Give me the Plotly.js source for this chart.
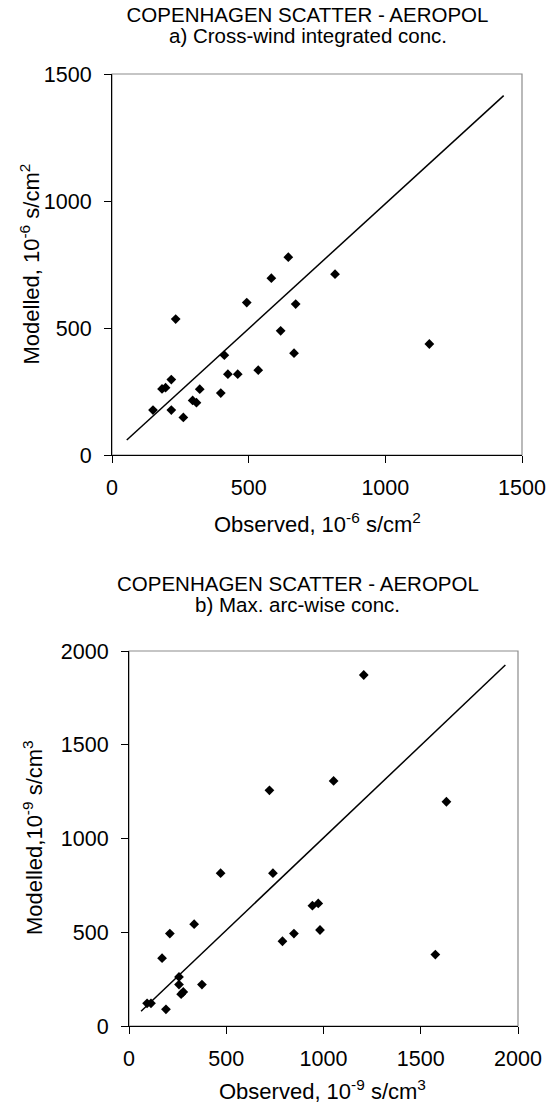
<!DOCTYPE html>
<html>
<head>
<meta charset="utf-8">
<script src="https://cdn.plot.ly/plotly-3.0.1.min.js"></script>
<style>
html,body{margin:0;padding:0;background:#fff;}
#chart{width:548px;height:1106px;}
</style>
</head>
<body>
<div id="chart"></div>
<script>
// ---- Data ----
// a) Cross-wind integrated concentration, 10^-6 s/cm^2
const obsA = [150, 183, 196, 217, 217, 233, 261, 295, 309, 321, 398, 411, 424, 460, 493, 535, 583, 617, 645, 666, 672, 816, 1161];
const modA = [177, 260, 265, 297, 177, 535, 148, 215, 206, 259, 244, 393, 318, 318, 600, 334, 696, 489, 779, 401, 594, 712, 437];
const lineAx = [54, 1433];
const lineAy = [59, 1415];

// b) Max. arc-wise concentration, 10^-9 s/cm^3
const obsB = [93, 113, 190, 170, 210, 257, 257, 268, 279, 335, 375, 471, 722, 740, 789, 848, 943, 973, 982, 1052, 1207, 1575, 1632];
const modB = [121, 121, 89, 362, 493, 262, 221, 170, 182, 543, 221, 815, 1257, 815, 452, 493, 642, 654, 512, 1307, 1872, 381, 1196];
const lineBx = [62, 1935];
const lineBy = [79, 1925];

const ticksA = [0, 500, 1000, 1500];
const ticksB = [0, 500, 1000, 1500, 2000];

const titleTop = "COPENHAGEN SCATTER - AEROPOL";
const subA = "a) Cross-wind integrated conc.";
const subB = "b) Max. arc-wise conc.";
const xTitleA = "Observed, 10<sup>-6</sup> s/cm<sup>2</sup>";
const yTitleA = "Modelled, 10<sup>-6</sup> s/cm<sup>2</sup>";
const xTitleB = "Observed, 10<sup>-9</sup> s/cm<sup>3</sup>";
const yTitleB = "Modelled,10<sup>-9</sup> s/cm<sup>3</sup>";

// ---- Layout helpers ----
const W = 548, H = 1106;
const FONT = "Liberation Sans, Arial, sans-serif";
const px = v => v / W;
const py = v => 1 - v / H;

const markerStyle = {symbol: 'diamond', size: 7.5, color: '#000'};
const lineStyle = {color: '#000', width: 1.5};

const traces = [
  {x: lineAx, y: lineAy, mode: 'lines', line: lineStyle, xaxis: 'x', yaxis: 'y', hoverinfo: 'skip'},
  {x: obsA, y: modA, mode: 'markers', marker: markerStyle, xaxis: 'x', yaxis: 'y'},
  {x: lineBx, y: lineBy, mode: 'lines', line: lineStyle, xaxis: 'x2', yaxis: 'y2', hoverinfo: 'skip'},
  {x: obsB, y: modB, mode: 'markers', marker: markerStyle, xaxis: 'x2', yaxis: 'y2'}
];

function axis(range, ticks, domain, anchor, standoff) {
  return {
    domain: domain, range: range, anchor: anchor,
    tickmode: 'array', tickvals: ticks, ticktext: ticks.map(String),
    ticks: 'outside', ticklen: 7, tickwidth: 1, tickcolor: '#000',
    showline: true, linecolor: '#000', linewidth: 1,
    showgrid: false, zeroline: false, fixedrange: true,
    tickfont: {family: FONT, size: 21.5, color: '#000'},
    ticklabelstandoff: standoff
  };
}

function ann(text, x, y, size, angle) {
  return {text: text, x: px(x), y: py(y), xref: 'paper', yref: 'paper',
    xanchor: 'center', yanchor: 'middle', showarrow: false, textangle: angle || 0,
    font: {family: FONT, size: size, color: '#000'}};
}

const layout = {
  width: W, height: H,
  margin: {l: 0, r: 0, t: 0, b: 0},
  paper_bgcolor: '#fff', plot_bgcolor: '#fff',
  showlegend: false,
  title: {text: titleTop, x: px(307.5), xref: 'paper', xanchor: 'center',
          y: py(15), yref: 'paper', yanchor: 'middle',
          font: {family: FONT, size: 20.5, color: '#000'}},
  xaxis: axis([0, 1500], ticksA, [px(112), px(522)], 'y', 6),
  yaxis: axis([0, 1500], ticksA, [py(455), py(74)], 'x', 8),
  xaxis2: axis([0, 2000], ticksB, [px(129), px(518)], 'y2', 6),
  yaxis2: axis([0, 2000], ticksB, [py(1026), py(651)], 'x2', 8),
  shapes: [
    {type: 'rect', xref: 'x domain', yref: 'y domain', x0: 0, x1: 1, y0: 0, y1: 1,
     line: {color: '#8c8c8c', width: 1.2}, layer: 'below'},
    {type: 'rect', xref: 'x2 domain', yref: 'y2 domain', x0: 0, x1: 1, y0: 0, y1: 1,
     line: {color: '#8c8c8c', width: 1.2}, layer: 'below'}
  ],
  annotations: [
    ann(subA, 307.5, 36, 20.5),
    ann(xTitleA, 317, 523, 22),
    ann(yTitleA, 30, 264.5, 22, -90),
    ann(titleTop, 298, 583, 20.5),
    ann(subB, 298, 604, 20.5),
    ann(xTitleB, 322, 1090, 22),
    ann(yTitleB, 33, 838, 22, -90)
  ]
};

Plotly.newPlot('chart', traces, layout, {displayModeBar: false});
</script>
</body>
</html>
